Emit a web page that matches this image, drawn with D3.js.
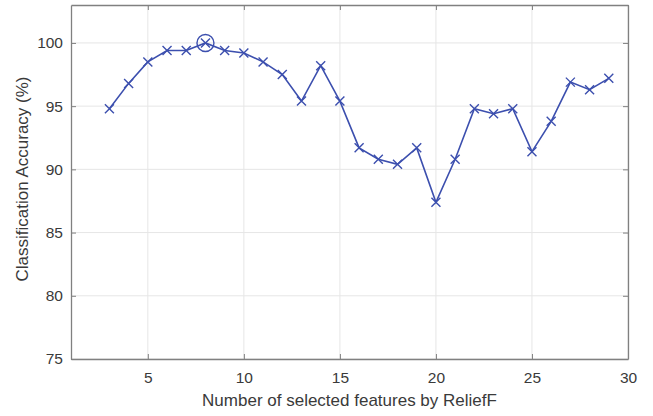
<html>
<head>
    <script src="https://cdn.jsdelivr.net/npm/d3@7"></script>
    <style>
        body { margin: 0; background: white; font-family: "Liberation Sans", Arial, sans-serif; }
        svg { display: block; }
    </style>
</head>
<body>
<svg id="chart"></svg>
<script>
    // number of features selected
    let features = [3, 4, 5, 6, 7, 8, 9, 10, 11, 12, 13, 14, 15, 16, 17, 18, 19, 20, 21, 22, 23, 24, 25, 26, 27, 28, 29];
    // classification accuracy (%)
    let accuracy = [94.8, 96.8, 98.5, 99.4, 99.4, 100, 99.4, 99.2, 98.5, 97.5, 95.4, 98.2, 95.4, 91.7, 90.8, 90.4, 91.7, 87.4, 90.8, 94.8, 94.4, 94.8, 91.4, 93.8, 96.9, 96.3, 97.2];
    let xTicks = [5, 10, 15, 20, 25, 30];
    let yTicks = [75, 80, 85, 90, 95, 100];
    let bestIndex = 5; // the circled point

    let width = 653, height = 416;
    let margin = {left: 71, right: 25, top: 5, bottom: 57};
    let svg = d3.select("#chart").attr("width", width).attr("height", height);

    let x = d3.scaleLinear().domain([1, 30]).range([margin.left, width - margin.right]);
    let y = d3.scaleLinear().domain([75, 103]).range([height - margin.bottom, margin.top]);

    let lineColor = "#3c4fae";
    let axisColor = "#808080";
    let textColor = "#3a3a3a";

    // grid
    let grid = svg.append("g");
    grid.selectAll(".vg").data(xTicks).enter().append("line")
        .attr("x1", d => x(d)).attr("x2", d => x(d))
        .attr("y1", y.range()[0]).attr("y2", y.range()[1])
        .attr("stroke", "#e6e6e6").attr("stroke-width", 1);
    grid.selectAll(".hg").data(yTicks).enter().append("line")
        .attr("y1", d => y(d)).attr("y2", d => y(d))
        .attr("x1", x.range()[0]).attr("x2", x.range()[1])
        .attr("stroke", "#e6e6e6").attr("stroke-width", 1);

    // axes, ticks pointing inside like matlab
    let axBottom = svg.append("g").attr("transform", "translate(0," + y.range()[0] + ")")
        .call(d3.axisBottom(x).tickValues(xTicks).tickSizeInner(-5).tickSizeOuter(0).tickPadding(13));
    let axTop = svg.append("g").attr("transform", "translate(0," + y.range()[1] + ")")
        .call(d3.axisTop(x).tickValues(xTicks).tickSizeInner(-5).tickSizeOuter(0).tickFormat(""));
    let axLeft = svg.append("g").attr("transform", "translate(" + x.range()[0] + ",0)")
        .call(d3.axisLeft(y).tickValues(yTicks).tickSizeInner(-5).tickSizeOuter(0).tickPadding(8));
    let axRight = svg.append("g").attr("transform", "translate(" + x.range()[1] + ",0)")
        .call(d3.axisRight(y).tickValues(yTicks).tickSizeInner(-5).tickSizeOuter(0).tickFormat(""));

    [axBottom, axTop, axLeft, axRight].forEach(g => {
        g.select(".domain").attr("stroke", axisColor).attr("stroke-width", 1.3);
        g.selectAll(".tick line").attr("stroke", axisColor);
        g.selectAll(".tick text").attr("fill", textColor)
            .style("font-family", "'Liberation Sans', Arial, sans-serif").style("font-size", "15.5px");
    });

    // data line
    let line = d3.line().x((d, i) => x(features[i])).y(d => y(d));
    svg.append("path").datum(accuracy)
        .attr("d", line).attr("fill", "none")
        .attr("stroke", lineColor).attr("stroke-width", 1.6);

    // x markers
    let s = 4.5;
    let marks = svg.append("g").selectAll("g").data(accuracy).enter().append("g")
        .attr("transform", (d, i) => "translate(" + x(features[i]) + "," + y(d) + ")");
    marks.append("path")
        .attr("d", "M" + (-s) + "," + (-s) + "L" + s + "," + s + "M" + (-s) + "," + s + "L" + s + "," + (-s))
        .attr("stroke", lineColor).attr("stroke-width", 1.4);

    // circle around best point
    svg.append("circle")
        .attr("cx", x(features[bestIndex])).attr("cy", y(accuracy[bestIndex]))
        .attr("r", 8.5).attr("fill", "none")
        .attr("stroke", lineColor).attr("stroke-width", 1.4);

    // labels
    svg.append("text")
        .attr("x", (x.range()[0] + x.range()[1]) / 2).attr("y", 406)
        .attr("text-anchor", "middle").attr("fill", textColor)
        .style("font-size", "17px")
        .text("Number of selected features by ReliefF");
    svg.append("text")
        .attr("transform", "translate(28," + ((y.range()[0] + y.range()[1]) / 2 - 3) + ") rotate(-90)")
        .attr("text-anchor", "middle").attr("fill", textColor)
        .style("font-size", "17px")
        .text("Classification Accuracy (%)");
</script>
</body>
</html>
